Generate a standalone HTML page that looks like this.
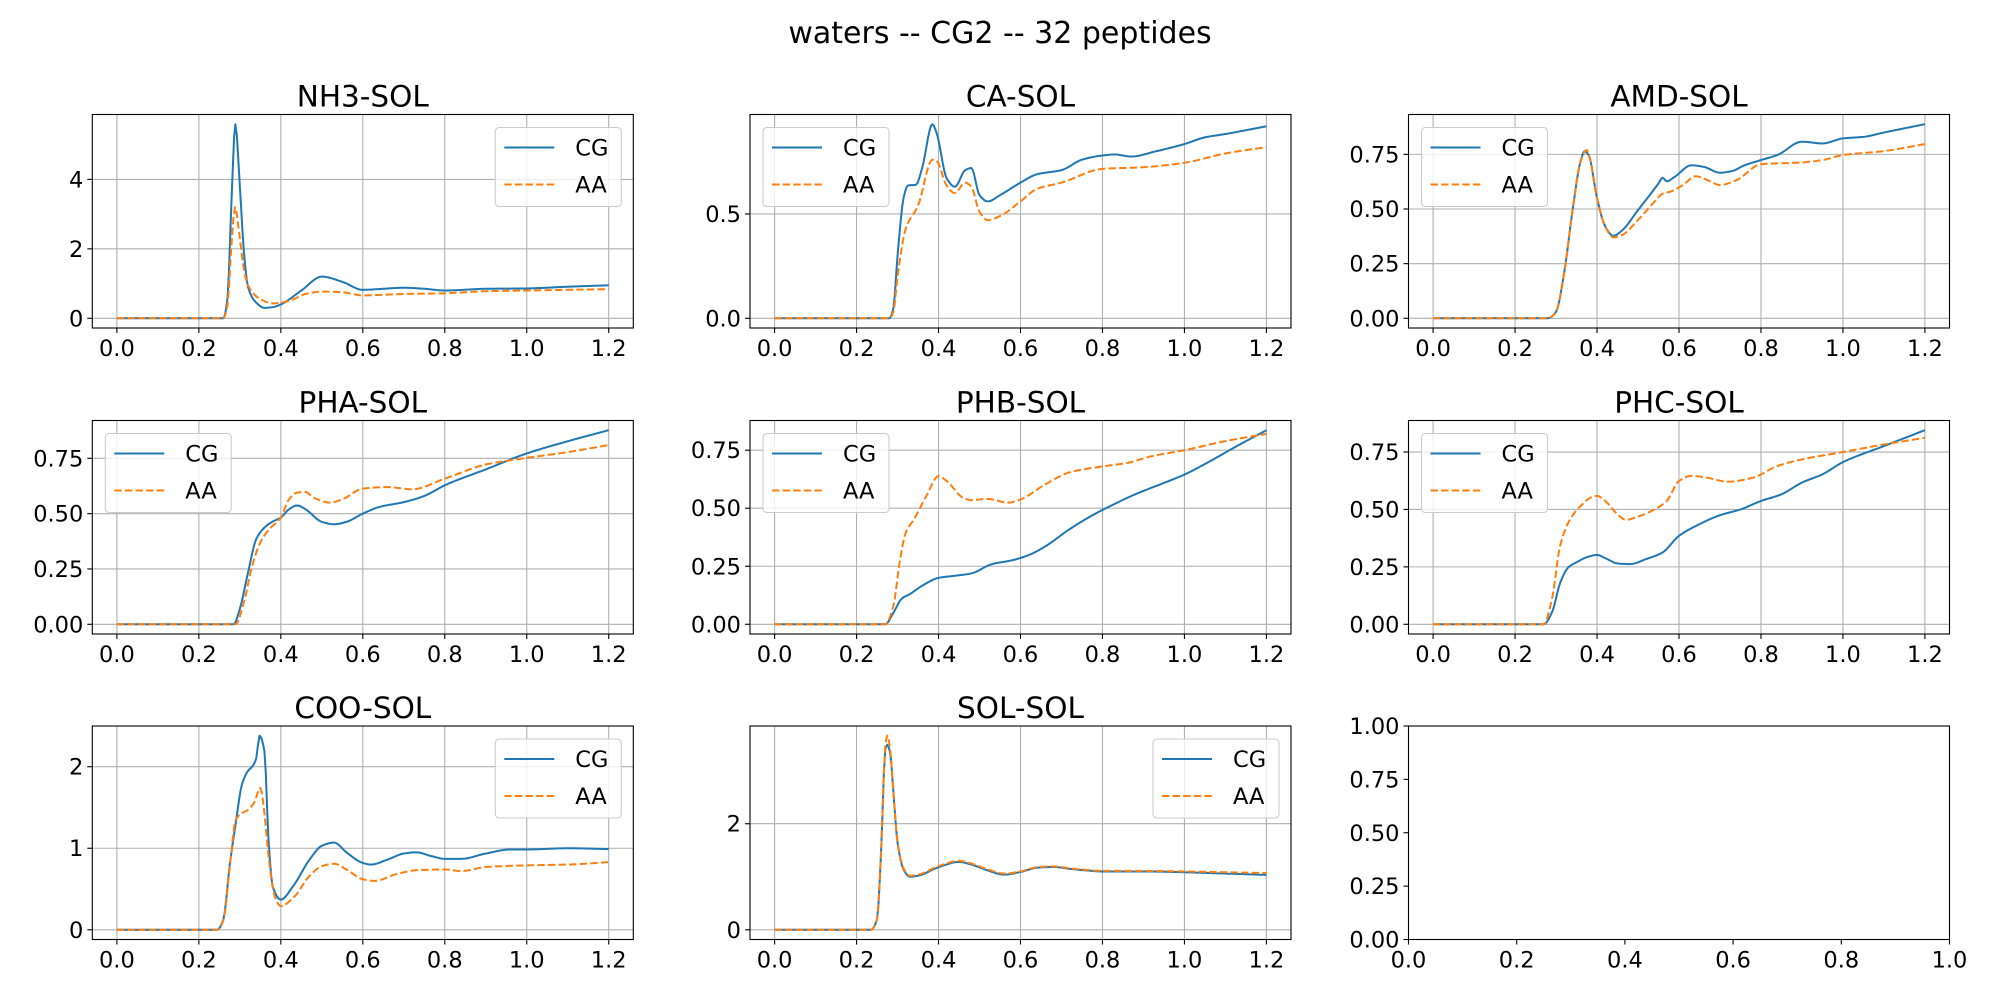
<!DOCTYPE html>
<html><head><meta charset="utf-8"><title>waters -- CG2 -- 32 peptides</title>
<style>
html,body{margin:0;padding:0;background:#fff;}
svg{display:block;font-family:"DejaVu Sans","Liberation Sans",sans-serif;}
</style></head>
<body>
<svg id="fig" width="2000" height="1000" viewBox="0 0 2000 1000" xmlns="http://www.w3.org/2000/svg">
<rect width="2000" height="1000" fill="#fff"/>
<text x="1000" y="43" font-size="30" text-anchor="middle">waters -- CG2 -- 32 peptides</text>
</svg>
<script>
// ---- data ----
const nh3CGx = [0,0.26,0.27,0.28,0.289,0.30,0.31,0.32,0.34,0.36,0.38,0.40,0.45,0.50,0.55,0.60,0.65,0.70,0.75,0.80,0.90,1.0,1.1,1.2];
const nh3CGy = [0,0,0.6,3.5,5.59,3.8,1.9,0.9,0.45,0.3,0.32,0.4,0.8,1.2,1.05,0.82,0.85,0.88,0.85,0.8,0.85,0.86,0.91,0.95];
const nh3AAx = [0,0.26,0.27,0.28,0.288,0.30,0.31,0.32,0.35,0.38,0.42,0.46,0.50,0.55,0.60,0.7,0.8,0.9,1.0,1.1,1.2];
const nh3AAy = [0,0,0.4,2.2,3.2,2.3,1.4,0.95,0.55,0.43,0.5,0.7,0.77,0.75,0.66,0.7,0.72,0.78,0.8,0.82,0.84];

const caCGx = [0,0.28,0.29,0.30,0.315,0.325,0.345,0.36,0.385,0.395,0.42,0.44,0.465,0.48,0.50,0.52,0.55,0.6,0.64,0.7,0.75,0.8,0.83,0.87,0.93,1.0,1.05,1.1,1.2];
const caCGy = [0,0,0.05,0.3,0.58,0.636,0.64,0.72,0.93,0.89,0.67,0.63,0.71,0.72,0.59,0.56,0.59,0.65,0.69,0.71,0.76,0.78,0.785,0.775,0.80,0.835,0.867,0.883,0.92];
const caAAx = [0,0.28,0.29,0.30,0.32,0.35,0.385,0.395,0.42,0.44,0.465,0.48,0.50,0.52,0.55,0.6,0.64,0.7,0.8,0.9,1.0,1.1,1.2];
const caAAy = [0,0,0.03,0.2,0.43,0.54,0.76,0.755,0.635,0.60,0.65,0.63,0.51,0.47,0.49,0.56,0.62,0.65,0.716,0.724,0.745,0.79,0.82];

const amdCGx = [0,0.28,0.30,0.32,0.34,0.36,0.37,0.38,0.40,0.42,0.44,0.46,0.5,0.55,0.56,0.57,0.59,0.63,0.66,0.7,0.73,0.76,0.8,0.84,0.9,0.95,1.0,1.05,1.1,1.2];
const amdCGy = [0,0,0.03,0.21,0.49,0.72,0.765,0.745,0.55,0.42,0.377,0.40,0.495,0.617,0.643,0.627,0.648,0.70,0.693,0.666,0.674,0.70,0.724,0.747,0.808,0.80,0.823,0.83,0.85,0.888];
const amdAAx = [0,0.28,0.30,0.32,0.34,0.36,0.375,0.38,0.40,0.42,0.44,0.46,0.5,0.54,0.56,0.58,0.61,0.64,0.67,0.7,0.74,0.8,0.9,0.95,1.0,1.1,1.2];
const amdAAy = [0,0,0.03,0.21,0.49,0.72,0.77,0.75,0.55,0.42,0.37,0.38,0.45,0.533,0.57,0.58,0.61,0.65,0.632,0.61,0.632,0.705,0.713,0.724,0.747,0.765,0.797];

const phaCGx = [0,0.285,0.30,0.32,0.34,0.36,0.38,0.40,0.42,0.44,0.46,0.50,0.53,0.56,0.6,0.64,0.7,0.75,0.8,0.9,1.0,1.1,1.2];
const phaCGy = [0,0,0.07,0.234,0.385,0.437,0.464,0.482,0.52,0.537,0.52,0.463,0.452,0.463,0.50,0.53,0.552,0.58,0.628,0.70,0.772,0.827,0.877];
const phaAAx = [0,0.29,0.31,0.33,0.35,0.37,0.40,0.42,0.44,0.46,0.48,0.52,0.55,0.6,0.66,0.72,0.8,0.9,1.0,1.1,1.2];
const phaAAy = [0,0,0.1,0.264,0.37,0.426,0.482,0.565,0.595,0.598,0.572,0.55,0.565,0.613,0.62,0.61,0.658,0.722,0.752,0.778,0.81];

const phbCGx = [0,0.27,0.29,0.31,0.33,0.36,0.40,0.44,0.48,0.53,0.58,0.62,0.66,0.72,0.78,0.82,0.88,0.94,1.0,1.06,1.12,1.2];
const phbCGy = [0,0,0.05,0.11,0.13,0.166,0.2,0.209,0.219,0.259,0.276,0.298,0.335,0.41,0.474,0.51,0.56,0.602,0.645,0.70,0.76,0.836];
const phbAAx = [0,0.27,0.29,0.305,0.32,0.34,0.37,0.40,0.42,0.46,0.48,0.52,0.57,0.6,0.66,0.72,0.8,0.86,0.92,1.0,1.1,1.2];
const phbAAy = [0,0,0.08,0.266,0.395,0.452,0.552,0.638,0.617,0.545,0.535,0.54,0.524,0.538,0.602,0.655,0.68,0.695,0.724,0.75,0.789,0.82];

const phcCGx = [0,0.27,0.29,0.31,0.33,0.35,0.38,0.40,0.42,0.45,0.48,0.52,0.56,0.6,0.65,0.7,0.75,0.8,0.85,0.9,0.95,1.0,1.1,1.2];
const phcCGy = [0,0,0.052,0.18,0.248,0.27,0.295,0.302,0.288,0.265,0.262,0.284,0.313,0.385,0.436,0.475,0.50,0.537,0.566,0.617,0.653,0.706,0.776,0.845];
const phcAAx = [0,0.27,0.29,0.31,0.33,0.36,0.39,0.40,0.42,0.45,0.47,0.50,0.54,0.57,0.6,0.63,0.66,0.72,0.78,0.84,0.9,1.0,1.1,1.2];
const phcAAy = [0,0,0.11,0.342,0.443,0.515,0.556,0.559,0.537,0.479,0.455,0.469,0.50,0.537,0.624,0.646,0.641,0.621,0.638,0.689,0.718,0.75,0.783,0.812];

const cooCGx = [0,0.245,0.26,0.275,0.29,0.305,0.32,0.33,0.34,0.348,0.36,0.37,0.38,0.40,0.43,0.47,0.5,0.53,0.56,0.6,0.62,0.66,0.7,0.73,0.77,0.8,0.84,0.9,0.96,1.0,1.1,1.2];
const cooCGy = [0,0,0.13,0.78,1.31,1.78,1.95,2.0,2.1,2.38,2.19,1.1,0.535,0.37,0.535,0.86,1.03,1.07,0.95,0.82,0.80,0.86,0.935,0.95,0.90,0.87,0.87,0.935,0.985,0.985,1.0,0.99];
const cooAAx = [0,0.245,0.26,0.275,0.29,0.305,0.32,0.335,0.35,0.36,0.37,0.385,0.40,0.43,0.47,0.5,0.53,0.56,0.6,0.63,0.68,0.73,0.8,0.84,0.9,1.0,1.1,1.2];
const cooAAy = [0,0,0.12,0.75,1.35,1.43,1.47,1.56,1.74,1.43,0.9,0.41,0.29,0.39,0.66,0.78,0.81,0.74,0.62,0.60,0.68,0.73,0.74,0.72,0.77,0.79,0.80,0.83];

const solCGx = [0,0.235,0.25,0.26,0.27,0.275,0.282,0.29,0.30,0.315,0.33,0.35,0.40,0.45,0.48,0.52,0.56,0.6,0.64,0.68,0.72,0.76,0.8,0.9,1.0,1.1,1.2];
const solCGy = [0,0,0.2,1.5,3.39,3.49,3.33,2.58,1.64,1.13,1.0,1.02,1.18,1.28,1.23,1.12,1.04,1.09,1.17,1.185,1.15,1.12,1.10,1.10,1.085,1.06,1.035];
const solAAx = [0,0.235,0.25,0.26,0.27,0.275,0.282,0.29,0.30,0.315,0.33,0.35,0.40,0.45,0.48,0.52,0.56,0.6,0.64,0.68,0.72,0.76,0.8,0.9,1.0,1.1,1.2];
const solAAy = [0,0,0.2,1.5,3.47,3.66,3.4,2.6,1.65,1.15,1.02,1.04,1.2,1.3,1.25,1.14,1.06,1.1,1.18,1.195,1.16,1.13,1.11,1.11,1.10,1.085,1.07];

const xTicks = [0,0.2,0.4,0.6,0.8,1.0,1.2];
const xTickLabels = ["0.0","0.2","0.4","0.6","0.8","1.0","1.2"];
const yTicksInt2 = [0,2,4];
const yTicksHalf = [0,0.5];
const yTicksQuarter = [0,0.25,0.5,0.75];
const yTicksCoo = [0,1,2];
const yTicksSol = [0,2];
const emptyXTicks = [0,0.2,0.4,0.6,0.8,1.0];
const emptyXTickLabels = ["0.0","0.2","0.4","0.6","0.8","1.0"];
const emptyYTicks = [0,0.25,0.5,0.75,1.0];
const emptyYTickLabels = ["0.00","0.25","0.50","0.75","1.00"];

const panels = [
 {name:"NH3-SOL", col:0,row:0, cg:[nh3CGx,nh3CGy], aa:[nh3AAx,nh3AAy], yt:yTicksInt2, yl:["0","2","4"], leg:"right"},
 {name:"CA-SOL", col:1,row:0, cg:[caCGx,caCGy], aa:[caAAx,caAAy], yt:yTicksHalf, yl:["0.0","0.5"], leg:"left"},
 {name:"AMD-SOL", col:2,row:0, cg:[amdCGx,amdCGy], aa:[amdAAx,amdAAy], yt:yTicksQuarter, yl:["0.00","0.25","0.50","0.75"], leg:"left"},
 {name:"PHA-SOL", col:0,row:1, cg:[phaCGx,phaCGy], aa:[phaAAx,phaAAy], yt:yTicksQuarter, yl:["0.00","0.25","0.50","0.75"], leg:"left"},
 {name:"PHB-SOL", col:1,row:1, cg:[phbCGx,phbCGy], aa:[phbAAx,phbAAy], yt:yTicksQuarter, yl:["0.00","0.25","0.50","0.75"], leg:"left"},
 {name:"PHC-SOL", col:2,row:1, cg:[phcCGx,phcCGy], aa:[phcAAx,phcAAy], yt:yTicksQuarter, yl:["0.00","0.25","0.50","0.75"], leg:"left"},
 {name:"COO-SOL", col:0,row:2, cg:[cooCGx,cooCGy], aa:[cooAAx,cooAAy], yt:yTicksCoo, yl:["0","1","2"], leg:"right"},
 {name:"SOL-SOL", col:1,row:2, cg:[solCGx,solCGy], aa:[solAAx,solAAy], yt:yTicksSol, yl:["0","2"], leg:"right"}
];

// ---- layout ----
const NS = "http://www.w3.org/2000/svg";
const svg = document.getElementById("fig");
const colL = [92.3, 750, 1408.5], axW = 541;
const rowT = [114.5, 420.5, 726], axH = 213.5;
function mk(tag, attrs, parent){
  const e = document.createElementNS(NS, tag);
  for (const k in attrs) e.setAttribute(k, attrs[k]);
  (parent||svg).appendChild(e);
  return e;
}
function monotone(xs, ys){
  const n = xs.length, d = [], m = new Array(n);
  for (let i=0;i<n-1;i++) d.push((ys[i+1]-ys[i])/(xs[i+1]-xs[i]));
  m[0]=d[0]; m[n-1]=d[n-2];
  for (let i=1;i<n-1;i++){
    if (d[i-1]*d[i]<=0) m[i]=0;
    else { const w1=2*(xs[i+1]-xs[i])+(xs[i]-xs[i-1]), w2=(xs[i+1]-xs[i])+2*(xs[i]-xs[i-1]);
      m[i]=(w1+w2)/(w1/d[i-1]+w2/d[i]); }
  }
  const out=[];
  for (let i=0;i<n-1;i++){
    const h=xs[i+1]-xs[i], steps=Math.max(2,Math.ceil(h/0.004));
    for (let s=0;s<steps;s++){
      const t=s/steps, t2=t*t, t3=t2*t;
      const y=(2*t3-3*t2+1)*ys[i]+(t3-2*t2+t)*h*m[i]+(-2*t3+3*t2)*ys[i+1]+(t3-t2)*h*m[i+1];
      out.push([xs[i]+t*h, y]);
    }
  }
  out.push([xs[n-1], ys[n-1]]);
  return out;
}

function drawAxes(g, L, T, sx, sy, xt, xl, yt, yl, grid){
  if (grid){
    xt.forEach(v=>{ const l=mk("line",{x1:sx(v),x2:sx(v),y1:T,y2:T+axH,stroke:"#b0b0b0","stroke-width":1.1},g);
        });
    yt.forEach(v=>{ const l=mk("line",{x1:L,x2:L+axW,y1:sy(v),y2:sy(v),stroke:"#b0b0b0","stroke-width":1.1},g);
        });
  }
  xt.forEach((v,i)=>{
    mk("line",{x1:sx(v),x2:sx(v),y1:T+axH,y2:T+axH+5,stroke:"#000","stroke-width":1.1},g);
    const t=mk("text",{x:sx(v),y:T+axH+28,"font-size":22.5,"text-anchor":"middle"},g);
     
    t.textContent=xl[i];
  });
  yt.forEach((v,i)=>{
    mk("line",{x1:L-5,x2:L,y1:sy(v),y2:sy(v),stroke:"#000","stroke-width":1.1},g);
    const t=mk("text",{x:L-9,y:sy(v)+8,"font-size":22.5,"text-anchor":"end"},g);
     
    t.textContent=yl[i];
  });
}

panels.forEach(p=>{
  const L=colL[p.col], T=rowT[p.row];
  const g=mk("g",{});
  
  
  const ymax=Math.max(...p.cg[1], ...p.aa[1]), ymin=Math.min(0,...p.cg[1],...p.aa[1]);
  const y0=ymin-0.05*(ymax-ymin), y1=ymax+0.05*(ymax-ymin);
  const x0=-0.06, x1=1.26;
  const sx=v=>L+(v-x0)/(x1-x0)*axW, sy=v=>T+axH-(v-y0)/(y1-y0)*axH;
  drawAxes(g,L,T,sx,sy,xTicks,xTickLabels,p.yt,p.yl,true);
  const cp="clip"+p.col+p.row;
  const cl=mk("clipPath",{id:cp},g); mk("rect",{x:L,y:T,width:axW,height:axH},cl);
  [["cg","#1f77b4",null],["aa","#ff7f0e","7.4 3.2"]].forEach(([k,c,dash])=>{
    const pts=monotone(p[k][0],p[k][1]);
    const d=pts.map((q,i)=>(i?"L":"M")+sx(q[0]).toFixed(2)+","+sy(q[1]).toFixed(2)).join("");
    const a={d:d,fill:"none",stroke:c,"stroke-width":2,"clip-path":"url(#"+cp+")","stroke-linejoin":"round"};
    if (dash) a["stroke-dasharray"]=dash;
    const path=mk("path",a,g);
    
    
  });
  const fr=mk("rect",{x:L,y:T,width:axW,height:axH,fill:"none",stroke:"#000","stroke-width":1.1},g);
   
  const tt=mk("text",{x:L+axW/2,y:T-8,"font-size":29.5,"text-anchor":"middle"},g);
   
  tt.textContent=p.name;
  // legend
  const bw=126, bh=79, bx=p.leg==="right"?L+axW-12-bw:L+13, by=T+13;
  const lg=mk("g",{},g);
   
  mk("rect",{x:bx,y:by,width:bw,height:bh,rx:4,fill:"#fff","fill-opacity":0.8,stroke:"#cccccc","stroke-width":1.1},lg);
  [["CG","#1f77b4",null,20],["AA","#ff7f0e","7.4 3.2",57]].forEach(([lab,c,dash,dy])=>{
    const e=mk("g",{},lg);
    
    
    const a={x1:bx+9,x2:bx+59,y1:by+dy,y2:by+dy,stroke:c,"stroke-width":2};
    if (dash) a["stroke-dasharray"]=dash;
    mk("line",a,e);
    const t=mk("text",{x:bx+80,y:by+dy+8,"font-size":22.5},e);
    t.textContent=lab;
  });
});

// empty panel
(function(){
  const L=colL[2], T=rowT[2];
  const g=mk("g",{});
  
  
  const sx=v=>L+v*axW, sy=v=>T+axH-v*axH;
  drawAxes(g,L,T,sx,sy,emptyXTicks,emptyXTickLabels,emptyYTicks,emptyYTickLabels,false);
  const fr=mk("rect",{x:L,y:T,width:axW,height:axH,fill:"none",stroke:"#000","stroke-width":1.1},g);
   
})();
</script>
</body></html>
